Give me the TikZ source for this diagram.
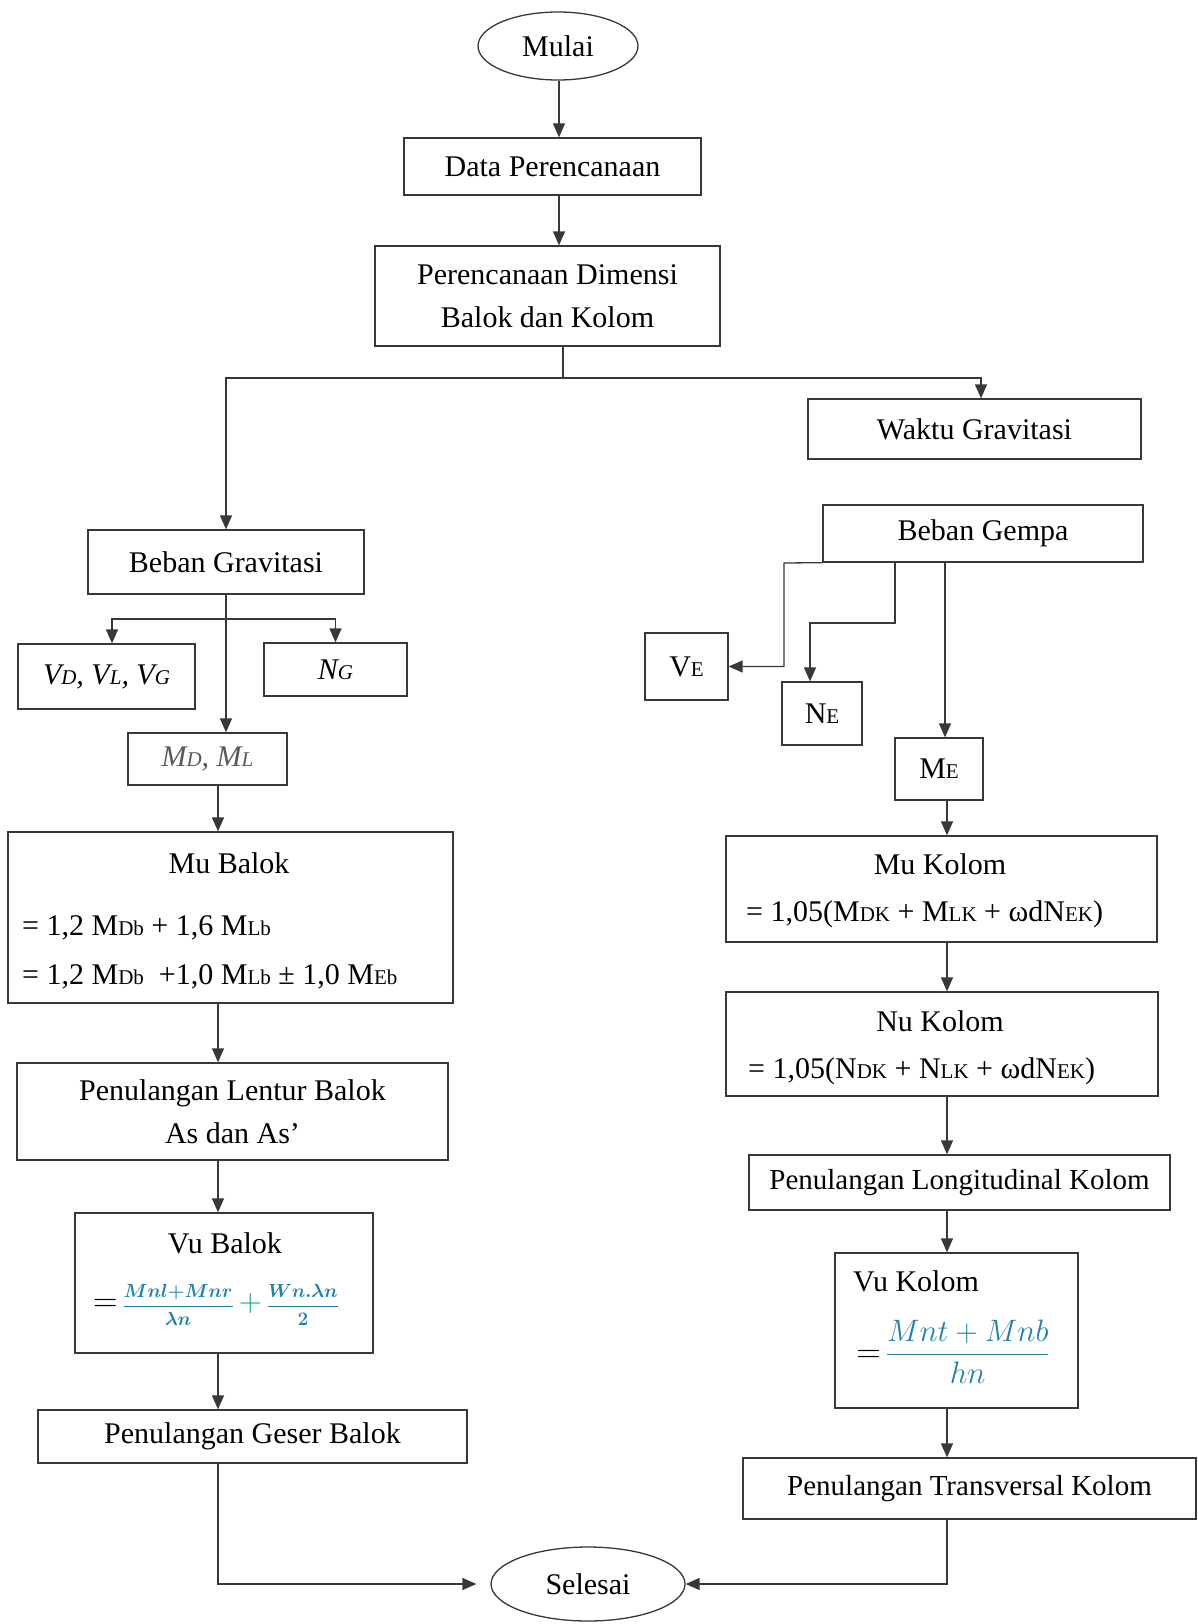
\RequirePackage{fix-cm}
\documentclass[tikz,border=0pt]{standalone}
\usepackage{amsmath}
\usepackage{fontspec}
\setmainfont{Liberation Serif}
\usetikzlibrary{arrows.meta,shapes.geometric,calc}
\definecolor{ln}{gray}{0.22}
\definecolor{fm}{HTML}{1F82A8}
\newcommand\sbx[1]{{\fontsize{21}{24}\selectfont #1}}
\tikzset{
  box/.style={draw=ln, line width=1.3pt, rectangle, inner sep=0pt, align=center, font=\fontsize{30}{43}\selectfont},
  term/.style={draw=ln, line width=1.3pt, ellipse, inner sep=0pt, font=\fontsize{30}{36}\selectfont},
  arr/.style={draw=ln, line width=1.3pt, -{Triangle[length=14pt,width=12pt]}},
  lnx/.style={draw=ln, line width=1.3pt},
  txt/.style={inner sep=0pt, font=\fontsize{30}{36}\selectfont},
}
\begin{document}
\begin{tikzpicture}[x=1pt,y=-1pt]
\useasboundingbox (0,0) rectangle (1197,1624);
% top
\node[term, minimum width=160pt, minimum height=68pt] (mulai) at (558,46) {Mulai};
\node[box, minimum width=297pt, minimum height=57pt] (dp) at (552.5,166.5) {Data Perencanaan};
\node[box, minimum width=345pt, minimum height=100pt] (pd) at (547.5,296) {Perencanaan Dimensi\\Balok dan Kolom};
\node[box, minimum width=333pt, minimum height=60pt] (wg) at (974.5,429) {Waktu Gravitasi};
% left column
\node[box, minimum width=276pt, minimum height=64pt] (bg) at (226,562) {Beban Gravitasi};
\node[box, minimum width=177pt, minimum height=65pt] (vd) at (106.5,676.5) {\textit{V\sbx{D}, V\sbx{L}, V\sbx{G}}};
\node[box, minimum width=143pt, minimum height=53pt] (ng) at (335.5,669.5) {\textit{N\sbx{G}}};
\node[box, minimum width=159pt, minimum height=52pt] (md) at (207.5,759) {\color{black!65}\textit{M\sbx{D}, M\sbx{L}}};
\node[box, minimum width=445pt, minimum height=171pt] (mub) at (230.5,917.5) {};
\node[txt] (mubt) at (229,863) {Mu Balok};
\node[txt, anchor=west] (mub1) at (22,928) {= 1,2 M\sbx{Db} + 1,6 M\sbx{Lb}};
\node[txt, anchor=west] (mub2) at (22,977) {= 1,2 M\sbx{Db}\ \ +1,0 M\sbx{Lb} ± 1,0 M\sbx{Eb}};
\node[box, minimum width=431pt, minimum height=97pt] (plb) at (232.5,1111.5) {Penulangan Lentur Balok\\As dan As’};
\node[box, minimum width=298pt, minimum height=140pt] (vub) at (224,1283) {};
\node[txt] (vubt) at (225,1243) {Vu Balok};
\node[txt] (vubf) at (216,1305) {{\fontsize{34}{36}\selectfont$=$}\,{\fontsize{19}{22}\selectfont\boldmath$\color{fm}\dfrac{Mnl{+}Mnr}{\lambda n}$}\,{\fontsize{32}{34}\selectfont\color{fm!70!green}$+$}\,{\fontsize{19}{22}\selectfont\boldmath$\color{fm}\dfrac{Wn.\lambda n}{2}$}};
\node[box, minimum width=429pt, minimum height=53pt] (pgb) at (252.5,1436.5) {Penulangan Geser Balok};
% bottom
\node[term, minimum width=194pt, minimum height=74pt] (sel) at (588,1584) {Selesai};
% right column
\node[box, minimum width=320pt, minimum height=57pt] (bgp) at (983,533.5) {Beban Gempa};
\node[box, minimum width=83pt, minimum height=67pt] (ve) at (686.5,666.5) {V\sbx{E}};
\node[box, minimum width=80pt, minimum height=63pt] (ne) at (822,713.5) {N\sbx{E}};
\node[box, minimum width=88pt, minimum height=62pt] (me) at (939,769) {M\sbx{E}};
\node[box, minimum width=431pt, minimum height=106pt] (muk) at (941.5,889) {};
\node[txt] (mukt) at (940,864) {Mu Kolom};
\node[txt, anchor=west] (muk1) at (746,914) {= 1,05(M\sbx{DK} + M\sbx{LK} + ωdN\sbx{EK})};
\node[box, minimum width=432pt, minimum height=104pt] (nuk) at (942,1044) {};
\node[txt] (nukt) at (940,1021) {Nu Kolom};
\node[txt, anchor=west] (nuk1) at (748,1071) {= 1,05(N\sbx{DK} + N\sbx{LK} + ωdN\sbx{EK})};
\node[box, minimum width=421pt, minimum height=55pt, font=\fontsize{29}{34}\selectfont] (plk) at (959.5,1182.5) {Penulangan Longitudinal Kolom};
\node[box, minimum width=243pt, minimum height=155pt] (vuk) at (956.5,1330.5) {};
\node[txt, anchor=west] (vukt) at (853,1281) {Vu Kolom};
\node[txt] (vukf) at (953,1352) {{\fontsize{34}{36}\selectfont$=$}\,{\fontsize{31}{34}\selectfont$\color{fm}\dfrac{Mnt + Mnb}{hn}$}};
\node[box, minimum width=453pt, minimum height=61pt, font=\fontsize{29}{34}\selectfont] (ptk) at (969.5,1488.5) {Penulangan Transversal Kolom};
% coordinates
\coordinate (cx) at (559,0);
\coordinate (b1) at (563,378);
\coordinate (wgin) at (981,0);
\coordinate (b2) at (226,619);
\coordinate (vdin) at (112,0);
\coordinate (cl) at (218,0);
\coordinate (cr) at (947,0);
\coordinate (g1) at (784,563);
\coordinate (g2) at (895,0);
\coordinate (g3) at (810,623);
\coordinate (g4) at (945,0);
% connectors top
\draw[arr] (mulai.south -| cx) -- (dp.north -| cx);
\draw[arr] (dp.south -| cx) -- (pd.north -| cx);
\draw[lnx] (pd.south -| b1) -- (b1);
\draw[arr] (b1) -| (wg.north -| wgin);
\draw[arr] (b1) -| (bg.north);
% left
\draw[arr] (bg.south) -- (bg.south |- md.north);
\draw[arr] (b2) -| (vd.north -| vdin);
\draw[arr] (b2) -| (ng.north);
\draw[arr] (md.south -| cl) -- (mub.north -| cl);
\draw[arr] (mub.south -| cl) -- (plb.north -| cl);
\draw[arr] (plb.south -| cl) -- (vub.north -| cl);
\draw[arr] (vub.south -| cl) -- (pgb.north -| cl);
\draw[arr, shorten >=14pt] (pgb.south -| cl) |- (sel.west);
% right
\draw[arr] (bgp.south west) -- (g1) |- (ve.east);
\draw[arr] (bgp.south -| g2) -- (g2 |- g3) -- (g3) -- (g3 |- ne.north);
\draw[arr] (bgp.south -| g4) -- (me.north -| g4);
\draw[arr] (me.south -| cr) -- (muk.north -| cr);
\draw[arr] (muk.south -| cr) -- (nuk.north -| cr);
\draw[arr] (nuk.south -| cr) -- (plk.north -| cr);
\draw[arr] (plk.south -| cr) -- (vuk.north -| cr);
\draw[arr] (vuk.south -| cr) -- (ptk.north -| cr);
\draw[arr] (ptk.south -| cr) |- (sel.east);
\end{tikzpicture}
\end{document}
